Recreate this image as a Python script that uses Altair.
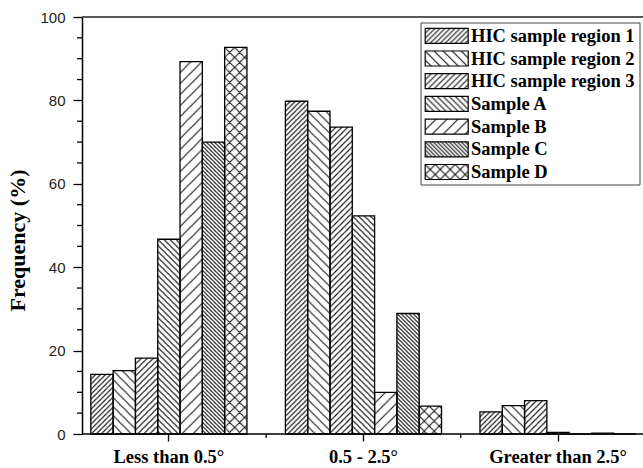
import base64

import altair as alt
import pandas as pd

# ---- data -------------------------------------------------------------
categories = ["Less than 0.5°", "0.5 - 2.5°", "Greater than 2.5°"]
series = [
    "HIC sample region 1",
    "HIC sample region 2",
    "HIC sample region 3",
    "Sample A",
    "Sample B",
    "Sample C",
    "Sample D",
]
region_1 = [14.3, 79.8, 5.3]
region_2 = [15.2, 77.4, 6.8]
region_3 = [18.2, 73.6, 8.0]
sample_a = [46.7, 52.3, 0.4]
sample_b = [89.3, 10.0, 0.0]
sample_c = [70.0, 28.9, 0.2]
sample_d = [92.7, 6.7, 0.0]
values = [region_1, region_2, region_3, sample_a, sample_b, sample_c, sample_d]

major_y_ticks = [0, 20, 40, 60, 80, 100]
minor_y_ticks = [v for v in range(5, 100, 5) if v % 20]

# hatch style per series: line direction and repeat (px)
hatches = [("/", 5), ("\\", 9), ("/", 6), ("\\", 6), ("/", 11), ("\\", 4), ("x", 10)]


def hatch_url(kind, p):
    """Tiled hatch fill as an SVG data URI."""
    d = []
    if kind in ("/", "x"):
        d.append(f"M0,{p} L{p},0 M{-p/2},{p/2} L{p/2},{-p/2} M{p/2},{1.5*p} L{1.5*p},{p/2}")
    if kind in ("\\", "x"):
        d.append(f"M0,0 L{p},{p} M{-p/2},{p/2} L{p/2},{1.5*p} M{p/2},{-p/2} L{1.5*p},{p/2}")
    svg = (
        "<svg xmlns='http://www.w3.org/2000/svg' width='100%' height='100%'>"
        f"<defs><pattern id='h' width='{p}' height='{p}' patternUnits='userSpaceOnUse'>"
        f"<path d='{' '.join(d)}' stroke='#111' stroke-width='1.1' fill='none'/>"
        "</pattern></defs>"
        "<rect width='100%' height='100%' fill='white'/>"
        "<rect width='100%' height='100%' fill='url(#h)'/></svg>"
    )
    return "data:image/svg+xml;base64," + base64.b64encode(svg.encode()).decode()


urls = [hatch_url(k, p) for k, p in hatches]

rows = []
for name, vals, url in zip(series, values, urls):
    for cat, v in zip(categories, vals):
        rows.append({"category": cat, "series": name, "value": v, "url": url})
df = pd.DataFrame(rows)
legend_df = pd.DataFrame({"series": series, "url": urls})
one = pd.DataFrame({"k": [0]})

# ---- layout -----------------------------------------------------------
W, H = 561, 417
SERIF = "Liberation Serif"

x_scale = alt.Scale(domain=categories, range=[-10.4, 573.3], paddingInner=0, paddingOuter=0)
xoff = alt.XOffset("series:N", sort=series, scale=alt.Scale(paddingInner=0, paddingOuter=0.862))
y_scale = alt.Scale(domain=[0, 100], nice=False)

x_axis = alt.Axis(
    title=None,
    labelAngle=0,
    labelFont=SERIF,
    labelFontWeight="bold",
    labelFontSize=18.5,
    labelColor="black",
    labelPadding=6,
    tickSize=7,
    tickColor="black",
    tickWidth=1.3,
    domain=False,
    grid=False,
)
y_axis = alt.Axis(
    orient="left",
    values=major_y_ticks,
    tickSize=9,
    tickColor="black",
    tickWidth=1.3,
    domainColor="black",
    domainWidth=1.5,
    grid=False,
    labelFont="Liberation Sans",
    labelFontSize=15,
    labelColor="#222",
    labelPadding=8,
    title="Frequency (%)",
    titleFont=SERIF,
    titleFontSize=22,
    titleFontWeight="bold",
    titleColor="black",
    titleX=-65,
    titleY=223,
    titleAlign="center",
    titleBaseline="middle",
)

x_field = alt.X("category:N", sort=categories, scale=x_scale, axis=x_axis)

# hatched fills
fills = alt.Chart(df).mark_image(aspect=False).encode(
    x=x_field,
    xOffset=xoff,
    y=alt.Y("value:Q", scale=y_scale, axis=None),
    url="url:N",
)

# bar outlines, carrying the value axis
outlines = alt.Chart(df).mark_bar(fillOpacity=0, stroke="black", strokeWidth=1.3).encode(
    x=x_field,
    xOffset=xoff,
    y=alt.Y("value:Q", scale=y_scale, axis=y_axis),
)

# minor ticks between the category groups
minor_x = alt.Chart(pd.DataFrame({"category": categories[:2]})).mark_rule(
    color="black", strokeWidth=1.3
).encode(
    x=alt.X("category:N", sort=categories, scale=x_scale, bandPosition=1, axis=x_axis),
    y=alt.value(H),
    y2=alt.value(H + 4),
)

# minor ticks on the value axis
minor_y = alt.Chart(pd.DataFrame({"v": minor_y_ticks})).mark_rule(
    color="black", strokeWidth=1.3
).encode(
    y=alt.Y("v:Q", scale=y_scale, axis=None),
    x=alt.value(-5),
    x2=alt.value(0),
)

top_line = alt.Chart(one).mark_rule(color="#222", strokeWidth=1.5).encode(
    x=alt.value(0), x2=alt.value(W), y=alt.value(0)
)
bottom_line = alt.Chart(one).mark_rule(color="black", strokeWidth=1.5).encode(
    x=alt.value(0), x2=alt.value(W), y=alt.value(H)
)

# legend
leg_y = alt.Y(
    "series:N",
    sort=series,
    scale=alt.Scale(type="point", range=[18.8, 155], padding=0),
    axis=None,
)
legend_box = alt.Chart(one).mark_rect(fill="white", stroke="#444", strokeWidth=1).encode(
    x=alt.value(339), x2=alt.value(558), y=alt.value(6), y2=alt.value(168)
)
swatch_fill = alt.Chart(legend_df).mark_image(width=43, height=15, aspect=False).encode(
    x=alt.value(364.7), y=leg_y, url="url:N"
)
swatch_edge = alt.Chart(legend_df).mark_rect(
    width=43, height=15, fillOpacity=0, stroke="black", strokeWidth=1.2
).encode(x=alt.value(364.7), y=leg_y)
legend_text = alt.Chart(legend_df).mark_text(
    align="left", baseline="middle", font=SERIF, fontWeight="bold", fontSize=18.5, color="black"
).encode(x=alt.value(389), y=leg_y, text="series:N")

chart = (
    alt.layer(
        fills,
        outlines,
        minor_x,
        minor_y,
        top_line,
        bottom_line,
        legend_box,
        swatch_fill,
        swatch_edge,
        legend_text,
    )
    .resolve_scale(y="independent")
    .properties(
        width=W,
        height=H,
        autosize=alt.AutoSizeParams(type="none"),
        padding={"left": 82, "top": 17, "right": 0, "bottom": 34},
        background="white",
    )
    .configure_view(stroke=None)
)

chart.save("out.html", embed_options={"renderer": "svg", "actions": False})
